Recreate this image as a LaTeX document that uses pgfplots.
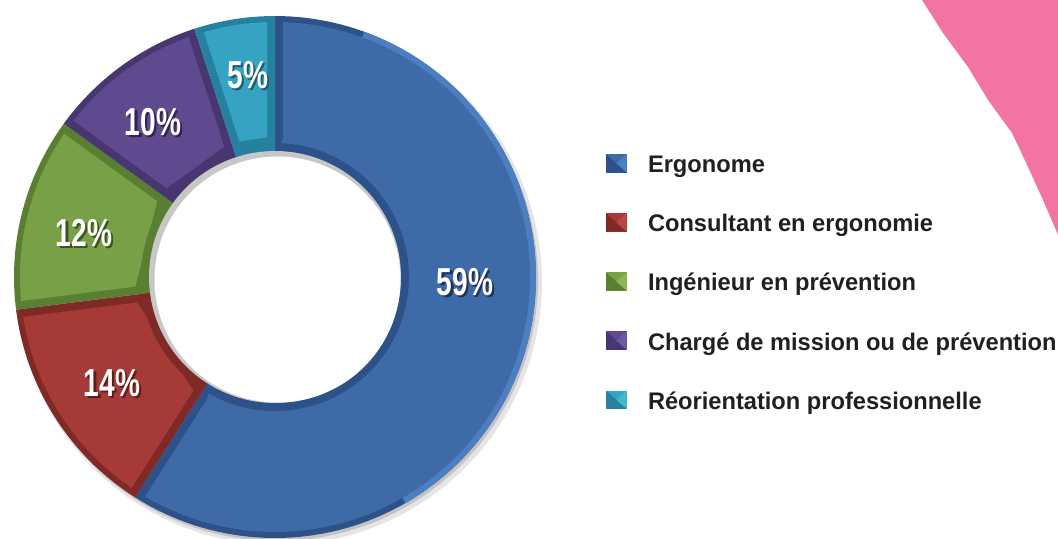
\documentclass[border=0pt]{standalone}
\usepackage{pgfplots}
\pgfplotsset{compat=1.18}
\usepackage{fontspec}
\setmainfont{Liberation Sans}[FakeStretch=0.985]
\newfontfamily\pctfont{Liberation Sans}[FakeStretch=0.72]

\definecolor{cblue}{HTML}{3E6AA7}\definecolor{cbluedk}{HTML}{2D5189}\definecolor{cbluelt}{HTML}{4C7FC2}\definecolor{cbluesh}{HTML}{1F3258}
\definecolor{cred}{HTML}{A53A37}\definecolor{creddk}{HTML}{7F2A27}\definecolor{credlt}{HTML}{B84743}\definecolor{credsh}{HTML}{5E1C1A}
\definecolor{cgreen}{HTML}{78A046}\definecolor{cgreendk}{HTML}{5A7F33}\definecolor{cgreenlt}{HTML}{8BB655}\definecolor{cgreensh}{HTML}{3C5622}
\definecolor{cpurple}{HTML}{5F4A8F}\definecolor{cpurpledk}{HTML}{47366F}\definecolor{cpurplelt}{HTML}{6E59A3}\definecolor{cpurplesh}{HTML}{2F2350}
\definecolor{ccyan}{HTML}{36A3C3}\definecolor{ccyandk}{HTML}{26819F}\definecolor{ccyanlt}{HTML}{45B5D5}\definecolor{ccyansh}{HTML}{1B5D73}
\definecolor{cpink}{HTML}{F174A2}
\definecolor{textcol}{HTML}{231F20}

% data: shares in percent
\def\vA{59}\def\vB{14}\def\vC{12}\def\vD{10}\def\vE{5}
\pgfmathsetmacro\aA{90}
\pgfmathsetmacro\aB{\aA-3.6*\vA}
\pgfmathsetmacro\aC{\aB-3.6*\vB}
\pgfmathsetmacro\aD{\aC-3.6*\vC}
\pgfmathsetmacro\aE{\aD-3.6*\vD}
\pgfmathsetmacro\aF{\aE-3.6*\vE}

\def\Cx{275}\def\Cy{261}\def\R{261}
\pgfmathsetmacro\dO{asin(8/255)}
\pgfmathsetmacro\dI{asin(8/140)}

% full wedge: start, end, radius, colour
\newcommand\wedgeplot[4]{%
 \addplot[fill=#4, draw=none, domain=0:1, samples=120, variable=\t, forget plot]
  ({\Cx+#3*cos((#1)+\t*((#2)-(#1)))},{\Cy+#3*sin((#1)+\t*((#2)-(#1)))}) -- (axis cs:\Cx,\Cy) -- cycle;}
% bevelled face
\newcommand\faceplot[3]{%
 \addplot[fill=#3, draw=none, domain=0:1, samples=120, variable=\t, forget plot]
  ({\Cx+255*cos((#1)+\dO+\t*((#2)-(#1)-2*\dO))},{\Cy+255*sin((#1)+\dO+\t*((#2)-(#1)-2*\dO))})
  -- (axis cs:{\Cx+140*cos((#2)-\dI)},{\Cy+140*sin((#2)-\dI)})
  -- (axis cs:{\Cx+140*cos((#1)+\dI)},{\Cy+140*sin((#1)+\dI)}) -- cycle;}
\newcommand\sq[3]{%
 \path[draw=none, fill=none] (0pt,0pt) -- (21pt,0pt);
 \begin{scope}[yshift=-3pt]
 \fill[#1, draw=none] (0pt,0pt) rectangle (10.3pt,9.2pt);
 \fill[#2, draw=none] (0pt,0pt) -- (5.15pt,4.6pt) -- (0pt,9.2pt) -- cycle;
 \fill[#2, draw=none] (0pt,0pt) -- (5.15pt,4.6pt) -- (10.3pt,0pt) -- cycle;
 \fill[#3, draw=none] (10.3pt,9.2pt) -- (5.15pt,4.6pt) -- (10.3pt,0pt) -- cycle;
 \end{scope}}
\newcommand\pct[4]{% x y text shadowcolour
 \node[font=\pctfont\bfseries\fontsize{19.5}{20}\selectfont, text=#4] at ([xshift=1.1pt,yshift=-1.1pt]axis cs:#1,#2) {#3};
 \node[font=\pctfont\bfseries\fontsize{19.5}{20}\selectfont, text=white] at (axis cs:#1,#2) {#3};}

\begin{document}
\begin{tikzpicture}
\begin{axis}[
  width=529pt, height=269pt, scale only axis,
  xmin=0, xmax=1058, ymin=0, ymax=538,
  hide axis, clip=true,
  legend cell align=left,
  legend style={draw=none, fill=none, inner sep=0pt, outer sep=0pt,
    at={(axis cs:606,383.9)}, anchor=north west, row sep=17.25pt,
    nodes={inner sep=0pt, text height=9.2pt, text depth=3pt,
      font=\bfseries\fontsize{12}{14}\selectfont, text=textcol}},
]
\coordinate (bbA) at (axis cs:0,0);
\coordinate (bbB) at (axis cs:1058,538);
% decorative pink shape
\addplot[fill=cpink, draw=none, forget plot] coordinates {
  (922,538) (943,505) (968,471) (988,438) (1012,405) (1028,371) (1043,338) (1058,303) (1058,538)} -- cycle;
% soft shadow
\addplot[fill=black, fill opacity=0.10, draw=none, domain=0:360, samples=150, variable=\t, forget plot]
  ({\Cx+4+(\R+2)*cos(\t)},{\Cy-5+(\R+2)*sin(\t)}) -- cycle;
\addplot[fill=black, fill opacity=0.15, draw=none, domain=0:360, samples=150, variable=\t, forget plot]
  ({\Cx+2+\R*cos(\t)},{\Cy-3+\R*sin(\t)}) -- cycle;
% rims
\wedgeplot{\aB}{\aA}{\R}{cbluedk}
\wedgeplot{-60}{70}{\R}{cbluelt}
\wedgeplot{\aC}{\aB}{\R}{creddk}
\wedgeplot{\aD}{\aC}{\R}{cgreendk}
\wedgeplot{\aE}{\aD}{\R}{cpurpledk}
\wedgeplot{\aF}{\aE}{\R}{ccyandk}
% faces
\faceplot{\aB}{\aA}{cblue}
\faceplot{\aC}{\aB}{cred}
\faceplot{\aD}{\aC}{cgreen}
\faceplot{\aE}{\aD}{cpurple}
\faceplot{\aF}{\aE}{ccyan}
% inner bands
\wedgeplot{\aB}{\aA}{134}{cbluedk}
\wedgeplot{\aC}{\aB}{134}{creddk}
\wedgeplot{\aD}{\aC}{134}{cgreendk}
\wedgeplot{\aE}{\aD}{134}{cpurpledk}
\wedgeplot{\aF}{\aE}{134}{ccyandk}
% hole
\addplot[fill=black!22, draw=none, domain=0:360, samples=150, variable=\t, forget plot]
  ({\Cx+126*cos(\t)},{\Cy+126*sin(\t)}) -- cycle;
\addplot[fill=white, draw=none, domain=0:360, samples=150, variable=\t, forget plot]
  ({\Cx+2.5+123*cos(\t)},{\Cy-2.5+123*sin(\t)}) -- cycle;
% labels
\pct{465}{256}{59\%}{cbluesh}
\pct{112}{155}{14\%}{credsh}
\pct{84}{305}{12\%}{cgreensh}
\pct{153}{416}{10\%}{cpurplesh}
\pct{248}{463}{5\%}{ccyansh}
% legend
\addlegendimage{legend image code/.code={\sq{cblue}{cbluedk}{cbluelt}}}
\addlegendimage{legend image code/.code={\sq{cred}{creddk}{credlt}}}
\addlegendimage{legend image code/.code={\sq{cgreen}{cgreendk}{cgreenlt}}}
\addlegendimage{legend image code/.code={\sq{cpurple}{cpurpledk}{cpurplelt}}}
\addlegendimage{legend image code/.code={\sq{ccyan}{ccyandk}{ccyanlt}}}
\legend{Ergonome, Consultant en ergonomie, Ingénieur en prévention, Chargé de mission ou de prévention, Réorientation professionnelle}
\end{axis}
\pgfresetboundingbox
\useasboundingbox (bbA) rectangle (bbB);
\end{tikzpicture}
\end{document}
